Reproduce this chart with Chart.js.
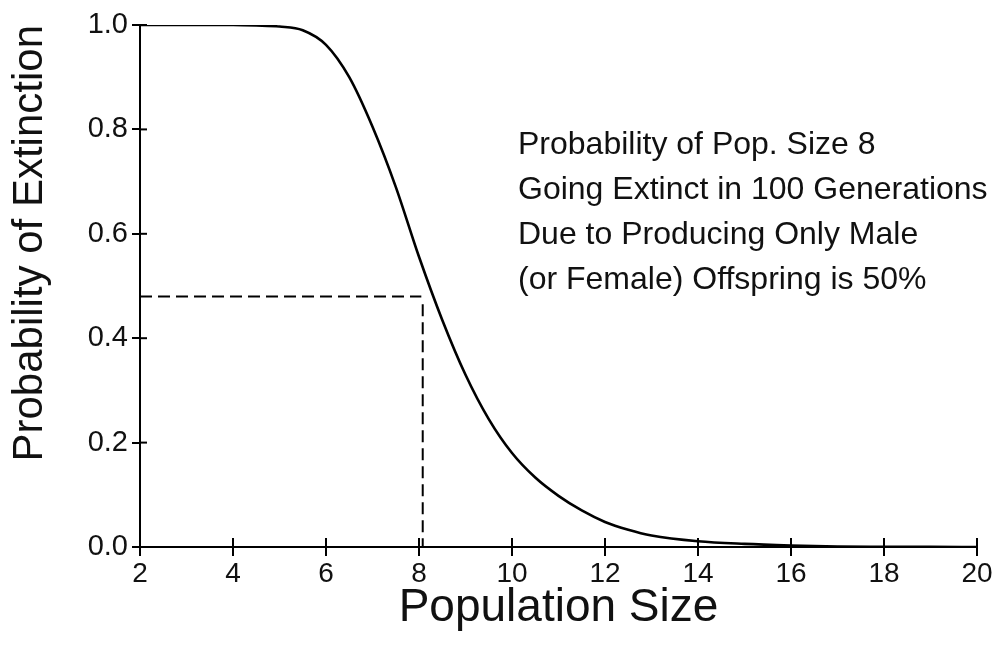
<!DOCTYPE html>
<html>
<head>
<meta charset="utf-8">
<script src="https://cdn.jsdelivr.net/npm/chart.js@4.4.1/dist/chart.umd.min.js"></script>
<style>
  html, body { margin: 0; padding: 0; background: #fff; }
  #wrap { width: 997px; height: 652px; position: relative; }
</style>
</head>
<body>
<div id="wrap"><canvas id="c" width="997" height="652"></canvas></div>
<script>
// ---- data ----
const popSize = [2, 3, 4, 4.5, 5, 5.5, 6, 6.5, 7, 7.5, 8, 8.5, 9, 9.5, 10, 10.5, 11, 11.5, 12, 12.5, 13, 14, 15, 16, 17, 18, 19, 20];
const extinctProb = [1, 1, 1, 0.999, 0.997, 0.99, 0.962, 0.90, 0.805, 0.69, 0.556, 0.435, 0.33, 0.245, 0.18, 0.133, 0.098, 0.07, 0.048, 0.033, 0.022, 0.011, 0.006, 0.003, 0.001, 0.0005, 0.0002, 0.0001];
const refHorizX = [2, 8.05];
const refHorizY = [0.48, 0.48];
const refVertX = [8.08, 8.08];
const refVertY = [0.465, 0];
const xTickValues = [2, 4, 6, 8, 10, 12, 14, 16, 18, 20];
const yTickValues = [0, 0.2, 0.4, 0.6, 0.8, 1.0];
const noteLines = [
  "Probability of Pop. Size 8",
  "Going Extinct in 100 Generations",
  "Due to Producing Only Male",
  "(or Female) Offspring is 50%"
];
const xTitle = "Population Size";
const yTitle = "Probability of Extinction";

const FONT = '"Liberation Sans", Arial, sans-serif';

const toPts = (xs, ys) => xs.map((v, i) => ({ x: v, y: ys[i] }));

const crossTicks = {
  id: 'crossTicks',
  afterDatasetsDraw(chart) {
    const { ctx, scales: { x, y } } = chart;
    ctx.save();
    ctx.strokeStyle = '#000';
    ctx.lineWidth = 2;
    const y0 = y.getPixelForValue(0);
    xTickValues.forEach(v => {
      const px = x.getPixelForValue(v);
      ctx.beginPath(); ctx.moveTo(px, y0); ctx.lineTo(px, y0 - 9); ctx.stroke();
    });
    const x0 = x.getPixelForValue(2);
    yTickValues.forEach(v => {
      const py = y.getPixelForValue(v);
      ctx.beginPath(); ctx.moveTo(x0, py); ctx.lineTo(x0 + 7, py); ctx.stroke();
    });
    // annotation text
    const ca = chart.chartArea;
    ctx.fillStyle = '#111';
    ctx.font = '32px ' + FONT;
    ctx.textBaseline = 'middle';
    ctx.textAlign = 'left';
    noteLines.forEach((t, i) => ctx.fillText(t, ca.left + 378, ca.top + 120 + i * 45));
    ctx.restore();
  }
};

new Chart(document.getElementById('c'), {
  type: 'line',
  data: {
    datasets: [
      {
        label: 'Probability of extinction',
        data: toPts(popSize, extinctProb),
        borderColor: '#000',
        borderWidth: 2.6,
        pointRadius: 0,
        cubicInterpolationMode: 'monotone',
        fill: false
      },
      {
        label: 'ref-h',
        data: toPts(refHorizX, refHorizY),
        borderColor: '#000',
        borderWidth: 2,
        borderDash: [12, 6],
        pointRadius: 0,
        fill: false
      },
      {
        label: 'ref-v',
        data: toPts(refVertX, refVertY),
        borderColor: '#000',
        borderWidth: 2,
        borderDash: [12, 6],
        pointRadius: 0,
        fill: false
      }
    ]
  },
  options: {
    responsive: false,
    animation: false,
    events: [],
    layout: { padding: { left: 0, top: 25, right: 20, bottom: 0 } },
    plugins: { legend: { display: false }, tooltip: { enabled: false } },
    scales: {
      x: {
        type: 'linear',
        min: 2, max: 20,
        afterFit(s) { s.height = 105; },
        afterBuildTicks(s) { s.ticks = xTickValues.map(v => ({ value: v })); },
        border: { display: true, color: '#000', width: 2 },
        grid: { display: true, drawOnChartArea: false, drawTicks: true, tickLength: 9, color: '#000', lineWidth: 2 },
        ticks: { color: '#111', padding: 1, font: { family: FONT, size: 28 }, maxRotation: 0, autoSkip: false },
        title: { display: true, text: xTitle, color: '#111', font: { family: FONT, size: 46, lineHeight: 1.2 }, padding: { top: 0, bottom: 16 } }
      },
      y: {
        type: 'linear',
        min: 0, max: 1,
        afterFit(s) { s.width = 140; },
        afterBuildTicks(s) { s.ticks = yTickValues.map(v => ({ value: v })); },
        border: { display: true, color: '#000', width: 2 },
        grid: { display: true, drawOnChartArea: false, drawTicks: true, tickLength: 8, color: '#000', lineWidth: 2 },
        ticks: { color: '#111', padding: 4, font: { family: FONT, size: 29 }, callback: v => Number(v).toFixed(1) },
        title: { display: true, text: yTitle, align: 'end', color: '#111', font: { family: FONT, size: 42, lineHeight: 1.2 }, padding: { top: 5, bottom: 0 } }
      }
    }
  },
  plugins: [crossTicks]
});
</script>
</body>
</html>
